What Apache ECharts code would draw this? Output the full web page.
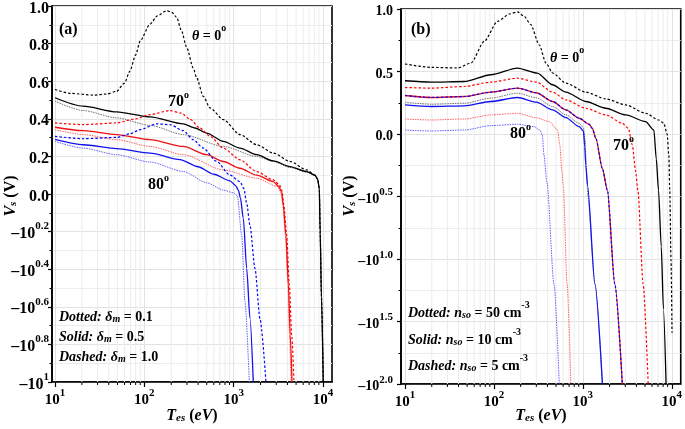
<!DOCTYPE html>
<html><head><meta charset="utf-8">
<script src="https://cdn.jsdelivr.net/npm/echarts@6/dist/echarts.min.js"></script>
<style>html,body{margin:0;padding:0;background:#fff}#c{width:685px;height:429px}</style>
</head><body><div id="c"></div>
<script>
// ---------- tick labels ----------
const xTickValues = [10, 100, 1000, 10000];
const xTickLabels = ['10^1', '10^2', '10^3', '10^4'];
const xMinorTicks = [20,30,40,50,60,70,80,90,200,300,400,500,600,700,800,900,2000,3000,4000,5000,6000,7000,8000,9000];
const aYTickValues = [1.0, 0.8, 0.6, 0.4, 0.2, 0.0, -0.2, -0.4, -0.6, -0.8, -1.0];
const aYTickLabels = ['1.0','0.8','0.6','0.4','0.2','0.0','–10^0.2','–10^0.4','–10^0.6','–10^0.8','–10^1'];
const bYTickValues = [1.0, 0.5, 0.0, -0.5, -1.0, -1.5, -2.0];
const bYTickLabels = ['1.0','0.5','0.0','–10^0.5','–10^1.0','–10^1.5','–10^2.0'];

// ---------- panel (a): [T_es (eV), V_s in plotted axis units] ----------
const aBlackDotted = [[10,0.494],[20.7,0.444],[49,0.405],[116,0.365],[273,0.316],[766,0.253],[1811,0.2],[2780,0.173],[4275,0.141],[6575,0.117],[8140,0.1],[8700,0.08],[9100,0.03],[9300,-0.2],[9620,-0.55],[10070,-1.0]];
const aBlackSolid = [[10,0.512],[20.7,0.467],[49,0.437],[116,0.41],[273,0.373],[369,0.351],[499,0.324],[766,0.28],[1177,0.244],[1811,0.209],[2780,0.176],[4275,0.146],[6575,0.119],[8140,0.1],[8700,0.08],[9100,0.03],[9300,-0.2],[9620,-0.55],[10070,-1.0]];
const aBlackDashed = [[10,0.556],[15,0.535],[27,0.526],[38,0.532],[49,0.546],[60,0.59],[69,0.654],[80,0.74],[90,0.815],[116,0.904],[140,0.948],[178,0.975],[205,0.965],[230,0.94],[260,0.87],[298,0.78],[353,0.67],[385,0.619],[457,0.52],[543,0.458],[766,0.396],[1177,0.316],[1811,0.262],[2780,0.218],[4275,0.173],[6575,0.128],[8140,0.1],[8700,0.08],[9100,0.03],[9300,-0.2],[9620,-0.55],[10070,-1.0]];
const aRedDotted = [[10,0.342],[20.7,0.316],[49,0.289],[116,0.253],[273,0.209],[766,0.128],[1811,0.084],[3100,0.04],[3400,0.005],[3550,-0.06],[3800,-0.22],[4050,-0.48],[4220,-0.75],[4385,-1.0]];
const aRedSolid = [[10,0.355],[20.7,0.337],[49,0.316],[116,0.289],[273,0.253],[499,0.209],[766,0.173],[1177,0.137],[1811,0.1],[2780,0.066],[3200,0.04],[3450,0.01],[3600,-0.06],[3850,-0.22],[4100,-0.48],[4300,-0.75],[4500,-1.0]];
const aRedDashed = [[10,0.378],[20.7,0.369],[49,0.378],[80,0.4],[116,0.422],[194,0.444],[260,0.43],[324,0.398],[420,0.351],[543,0.307],[766,0.244],[1177,0.182],[1811,0.119],[2780,0.075],[3245,0.05],[3450,0.025],[3650,-0.06],[3925,-0.22],[4200,-0.48],[4465,-0.75],[4740,-1.0]];
const aBlueDotted = [[10,0.28],[20.7,0.244],[49,0.209],[116,0.17],[273,0.12],[499,0.06],[766,0.021],[1000,0.006],[1100,-0.01],[1230,-0.218],[1340,-0.573],[1497,-1.0]];
const aBlueSolid = [[10,0.29],[20.7,0.262],[49,0.241],[116,0.217],[251,0.183],[400,0.145],[600,0.105],[910,0.07],[1050,0.045],[1130,0.02],[1190,-0.02],[1283,-0.13],[1400,-0.397],[1523,-0.66],[1660,-1.0]];
const aBlueDashed = [[10,0.307],[20.7,0.294],[49,0.301],[69,0.32],[89.5,0.342],[137,0.373],[194,0.369],[273,0.337],[353,0.289],[457,0.244],[646,0.173],[910,0.1],[1177,0.066],[1300,0.03],[1400,-0.05],[1523,-0.166],[1734,-0.397],[1972,-0.663],[2301,-1.0]];

// ---------- panel (b) ----------
const bBlackDotted = [[10,0.254],[19.7,0.238],[46.5,0.246],[92.5,0.287],[184,0.327],[300,0.29],[457,0.22],[646,0.153],[910,0.086],[1016,0.051],[1060,-0.05],[1100,-0.3],[1140,-0.5],[1368,-1.2],[1660,-2.0]];
const bBlackSolid = [[10,0.426],[19.7,0.415],[46.5,0.42],[92.5,0.474],[184,0.527],[308,0.487],[457,0.394],[646,0.335],[1081,0.26],[1811,0.206],[3034,0.153],[5080,0.099],[6295,0.032],[6700,-0.2],[7100,-0.45],[7620,-0.9],[8060,-1.4],[8635,-2.0]];
const bBlackDashed = [[10,0.56],[19.7,0.533],[39.2,0.528],[55.2,0.568],[78,0.742],[110,0.902],[150,0.96],[184,0.977],[220,0.94],[259,0.876],[324,0.712],[385,0.568],[457,0.488],[646,0.407],[1081,0.335],[1811,0.281],[3034,0.233],[5080,0.166],[7160,0.112],[8140,0.086],[8870,0.0],[9270,-0.17],[9500,-0.45],[9800,-1.0],[10070,-1.59]];
const bRedDotted = [[10,0.12],[19.7,0.112],[46.5,0.12],[92.5,0.153],[184,0.166],[300,0.13],[420,0.099],[520,0.032],[551,-0.088],[582,-0.3],[602,-0.41],[665,-1.2],[734,-2.0]];
const bRedSolid = [[10,0.308],[19.7,0.292],[46.5,0.3],[92.5,0.335],[184,0.367],[300,0.33],[457,0.26],[646,0.193],[910,0.126],[1177,0.078],[1280,0.045],[1400,-0.035],[1660,-0.276],[1888,-0.45],[2290,-1.2],[2780,-2.0]];
const bRedDashed = [[10,0.372],[19.7,0.367],[46.5,0.38],[92.5,0.415],[184,0.447],[300,0.415],[457,0.335],[646,0.273],[1081,0.206],[1811,0.153],[2780,0.086],[3245,0.046],[3600,-0.088],[3925,-0.3],[4160,-0.45],[4765,-1.2],[5430,-2.0]];
const bBlueDotted = [[10,0.032],[19.7,0.024],[46.5,0.032],[92.5,0.067],[184,0.078],[283,0.059],[330,0.03],[351,-0.01],[365,-0.168],[395,-0.39],[474,-1.2],[543,-2.0]];
const bBlueSolid = [[10,0.233],[19.7,0.22],[46.5,0.225],[92.5,0.26],[184,0.292],[300,0.255],[457,0.193],[646,0.131],[910,0.059],[1016,0.024],[1050,-0.1],[1081,-0.25],[1128,-0.41],[1368,-1.2],[1660,-2.0]];
const bBlueDashed = [[10,0.308],[19.7,0.292],[46.5,0.3],[92.5,0.335],[184,0.367],[300,0.33],[457,0.26],[646,0.193],[910,0.126],[1177,0.078],[1280,0.045],[1400,-0.035],[1660,-0.276],[1888,-0.45],[2290,-1.2],[2780,-2.0]];

const FF = 'Liberation Serif';
function richSet(big, small) {
  return {
    b: {fontFamily: FF, fontWeight: 'bold', fontSize: big, lineHeight: big + 5, verticalAlign: 'bottom', color: '#000'},
    s: {fontFamily: FF, fontWeight: 'bold', fontSize: small, lineHeight: small + 1, verticalAlign: 'top', color: '#000'}
  };
}
function toRich(str) {
  const p = str.split('^');
  return p.length > 1 ? '{b|' + p[0] + '}{s|' + p[1] + '}' : '{b|' + p[0] + '}';
}
function lookup(vals, labels) {
  return function (v) {
    for (let i = 0; i < vals.length; i++) if (Math.abs(vals[i] - v) < 1e-6) return toRich(labels[i]);
    return '';
  };
}
const xFmt = lookup(xTickValues, xTickLabels);

const gridCol = '#e2e2e2';
function xAxisDef(gi, min, max) {
  return {
    type: 'log', logBase: 10, gridIndex: gi, min: min, max: max,
    axisLine: {show: true, onZero: false, lineStyle: {color: '#000', width: 1.6}},
    axisTick: {show: true, inside: false, length: 5, customValues: xTickValues, lineStyle: {color: '#000', width: 1.2}},
    axisLabel: {customValues: xTickValues, margin: 6, formatter: xFmt, rich: richSet(15, 11), showMinLabel: true, showMaxLabel: true},
    splitLine: {show: true, lineStyle: {color: gridCol, width: 1}},
    minorTick: {show: false}, minorSplitLine: {show: false}
  };
}
function yAxisDef(gi, min, max, interval, vals, labels, margin, big, small) {
  return {
    type: 'value', gridIndex: gi, min: min, max: max, interval: interval,
    axisLine: {show: true, onZero: false, lineStyle: {color: '#000', width: 1.6}},
    axisTick: {show: true, inside: false, length: 4, lineStyle: {color: '#000', width: 1.2}},
    minorTick: {show: true, splitNumber: 2, length: 2.5, lineStyle: {color: '#000', width: 1}},
    axisLabel: {margin: margin, formatter: lookup(vals, labels), rich: richSet(big, small)},
    splitLine: {show: true, lineStyle: {color: gridCol, width: 1}},
    minorSplitLine: {show: true, lineStyle: {color: '#ececec', width: 1}}
  };
}

const styles = {
  dotted: {width: 1, type: [1.5, 1]},
  solid: {width: 1.3, type: 'solid'},
  dashed: {width: 1.2, type: [2.5, 2]}
};
const cols = {
  black: {dotted: '#707070', solid: '#000000', dashed: '#000000'},
  red: {dotted: '#ff6060', solid: '#ee1111', dashed: '#ff0000'},
  blue: {dotted: '#6060ff', solid: '#1111ee', dashed: '#0000ff'}
};
function line(data, gi, color, kind, z) {
  return {
    type: 'line', xAxisIndex: gi, yAxisIndex: gi, data: data, showSymbol: false, symbol: 'none',
    smooth: 0.25, smoothMonotone: 'x', silent: true, animation: false, z: z,
    lineStyle: {color: cols[color][kind], width: styles[kind].width, type: styles[kind].type}
  };
}
function minorGrid(gi, yMin, yMax) {
  return {
    type: 'custom', xAxisIndex: gi, yAxisIndex: gi, silent: true, animation: false, clip: false, z: 1,
    data: xMinorTicks.map(v => [v, yMin]),
    renderItem: function (params, api) {
      const b = api.coord([api.value(0), yMin]);
      const t = api.coord([api.value(0), yMax]);
      return {type: 'group', children: [
        {type: 'line', shape: {x1: b[0], y1: t[1], x2: b[0], y2: b[1]}, style: {stroke: '#ececec', lineWidth: 1}},
        {type: 'line', shape: {x1: b[0], y1: b[1], x2: b[0], y2: b[1] + 3}, style: {stroke: '#000', lineWidth: 1}}
      ]};
    }
  };
}

const tr = {
  n: {fontFamily: FF, fontWeight: 'bold', fontSize: 14, lineHeight: 20, verticalAlign: 'bottom', color: '#000'},
  i: {fontFamily: FF, fontWeight: 'bold', fontStyle: 'italic', fontSize: 14, lineHeight: 20, verticalAlign: 'bottom', color: '#000'},
  sub: {fontFamily: FF, fontWeight: 'bold', fontStyle: 'italic', fontSize: 10, lineHeight: 10, verticalAlign: 'bottom', color: '#000'},
  sup: {fontFamily: FF, fontWeight: 'bold', fontSize: 10, lineHeight: 12, verticalAlign: 'top', color: '#000'},
  T: {fontFamily: FF, fontWeight: 'bold', fontStyle: 'italic', fontSize: 16, lineHeight: 20, verticalAlign: 'bottom', color: '#000'},
  Tn: {fontFamily: FF, fontWeight: 'bold', fontSize: 16, lineHeight: 20, verticalAlign: 'bottom', color: '#000'},
  Ts: {fontFamily: FF, fontWeight: 'bold', fontStyle: 'italic', fontSize: 11, lineHeight: 10, verticalAlign: 'bottom', color: '#000'},
  r: {fontFamily: FF, fontWeight: 'bold', fontSize: 16, lineHeight: 20, verticalAlign: 'bottom', color: '#ff0000'},
  rs: {fontFamily: FF, fontWeight: 'bold', fontSize: 10, lineHeight: 11, verticalAlign: 'top', color: '#ff0000'},
  u: {fontFamily: FF, fontWeight: 'bold', fontSize: 16, lineHeight: 20, verticalAlign: 'bottom', color: '#0000ff'},
  us: {fontFamily: FF, fontWeight: 'bold', fontSize: 10, lineHeight: 11, verticalAlign: 'top', color: '#0000ff'},
  p: {fontFamily: FF, fontWeight: 'bold', fontSize: 16, lineHeight: 20, verticalAlign: 'bottom', color: '#000'}
};
function txt(x, y, text, opts) {
  opts = opts || {};
  return {type: 'text', x: x, y: y, rotation: opts.rot || 0, silent: true, z: 100,
    style: {text: text, rich: tr, align: opts.align || 'left', verticalAlign: 'middle', fontFamily: FF}};
}

const graphics = [
  txt(59, 28, '{p|(a)}'),
  txt(411, 28, '{p|(b)}'),
  txt(192, 33, '{i|θ}{n| = 0}{sup|o}'),
  txt(550, 55, '{i|θ}{n| = 0}{sup|o}'),
  txt(168, 100, '{r|70}{rs|o}'),
  txt(148, 183, '{u|80}{us|o}'),
  txt(510, 132, '{u|80}{us|o}'),
  txt(613, 144, '{r|70}{rs|o}'),
  txt(59, 314, '{i|Dotted: δ}{sub|m}{n| = 0.1}'),
  txt(59, 334, '{i|Solid: δ}{sub|m}{n| = 0.5}'),
  txt(59, 354, '{i|Dashed: δ}{sub|m}{n| = 1.0}'),
  txt(408, 310, '{i|Dotted: n}{sub|so}{n| = 50 cm}{sup|-3}'),
  txt(408, 337, '{i|Solid: n}{sub|so}{n| = 10 cm}{sup|-3}'),
  txt(408, 363, '{i|Dashed: n}{sub|so}{n| = 5 cm}{sup|-3}'),
  txt(192, 414, '{T|T}{Ts|es}{Tn| (}{T|eV}{Tn|)}', {align: 'center'}),
  txt(541, 414, '{T|T}{Ts|es}{Tn| (}{T|eV}{Tn|)}', {align: 'center'}),
  txt(9, 196, '{T|V}{Ts|s}{Tn| (V)}', {align: 'center', rot: Math.PI / 2}),
  txt(348, 196, '{T|V}{Ts|s}{Tn| (V)}', {align: 'center', rot: Math.PI / 2})
];

const series = [
  minorGrid(0, -1, 1), minorGrid(1, -2, 1),
  line(aBlackDotted, 0, 'black', 'dotted', 2), line(aRedDotted, 0, 'red', 'dotted', 2), line(aBlueDotted, 0, 'blue', 'dotted', 2),
  line(aBlackSolid, 0, 'black', 'solid', 3), line(aRedSolid, 0, 'red', 'solid', 3), line(aBlueSolid, 0, 'blue', 'solid', 3),
  line(aBlackDashed, 0, 'black', 'dashed', 4), line(aRedDashed, 0, 'red', 'dashed', 4), line(aBlueDashed, 0, 'blue', 'dashed', 4),
  line(bBlackDotted, 1, 'black', 'dotted', 2), line(bRedDotted, 1, 'red', 'dotted', 2), line(bBlueDotted, 1, 'blue', 'dotted', 2),
  line(bBlackSolid, 1, 'black', 'solid', 3), line(bRedSolid, 1, 'red', 'solid', 3), line(bBlueSolid, 1, 'blue', 'solid', 3),
  line(bBlackDashed, 1, 'black', 'dashed', 4), line(bRedDashed, 1, 'red', 'dashed', 4), line(bBlueDashed, 1, 'blue', 'dashed', 4)
];

const chart = echarts.init(document.getElementById('c'), null, {renderer: 'canvas'});
chart.setOption({
  animation: false,
  backgroundColor: '#fff',
  grid: [
    {left: 52, top: 6, width: 280, height: 376, show: true, borderColor: '#000', borderWidth: 1.6, backgroundColor: 'transparent'},
    {left: 401, top: 9, width: 281, height: 375, show: true, borderColor: '#000', borderWidth: 1.6, backgroundColor: 'transparent'}
  ],
  xAxis: [xAxisDef(0, 9.26, 12620), xAxisDef(1, 9.02, 12620)],
  yAxis: [
    yAxisDef(0, -1, 1, 0.2, aYTickValues, aYTickLabels, 3, 16, 11),
    yAxisDef(1, -2, 1, 0.5, bYTickValues, bYTickLabels, 8, 14, 11)
  ],
  series: series,
  graphic: graphics
});
</script></body></html>
